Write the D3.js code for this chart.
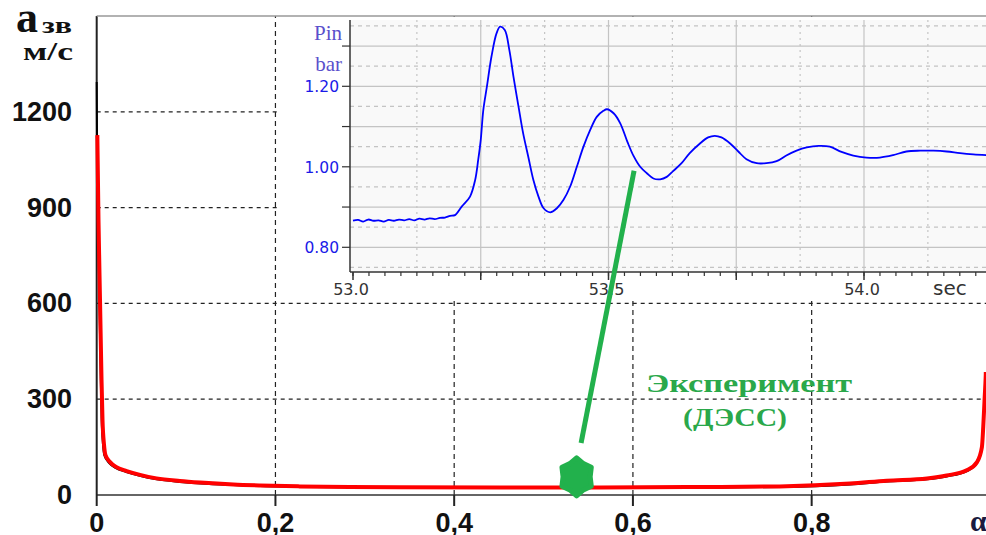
<!DOCTYPE html>
<html><head><meta charset="utf-8">
<script src="https://cdn.jsdelivr.net/npm/d3@7"></script>
<style>body{margin:0;background:#fff}svg{display:block}</style>
</head><body>
<svg id="c" width="986" height="535"></svg>
<script>
// ---------- main chart data ----------
const mainTicksX = [0, 0.2, 0.4, 0.6, 0.8];
const mainTickLabelsX = ["0", "0,2", "0,4", "0,6", "0,8"];
const mainTicksY = [0, 300, 600, 900, 1200];
const redX = [0.0007,0.002,0.0037,0.0054,0.0065,0.0082,0.0098,0.015,0.0216,0.0336,0.0485,0.067,0.093,0.116,0.153,0.183,0.227,0.283,0.339,0.451,0.563,0.675,0.764,0.843,0.884,0.929,0.951,0.974,0.985,0.9905,0.992,0.9935,0.9948,0.9995];
const redA = [1127,861,611,360,235,157,125,103,88,75,63,52,44,39,33,30,27,25,24,23.5,23.5,25,27,36,45,52,61,78,103,150,213,300,376,1130];
const blackX = [0.0,0.0003,0.0015,0.003,0.0045,0.0055,0.007,0.0085,0.014,0.021,0.033,0.048,0.067,0.093,0.116,0.153,0.183,0.227,0.283,0.339,0.451,0.563,0.675,0.764,0.843,0.884,0.929,0.951,0.974,0.985,0.9905,0.992,0.9935,0.9948,0.9995];
const blackA = [1293,1150,870,620,370,240,160,125,100,85,72,60,49,41,36,31,28,26,24,23,22.5,22.5,23.5,25,33,42,49,58,75,100,148,210,300,380,1130];
const expPoint = [0.537, 57];
const expLabel = ["Эксперимент", "(ДЭСС)"];

// ---------- inset data ----------
const insetT = [53.00,53.01,53.02,53.03,53.04,53.05,53.06,53.07,53.08,53.09,53.10,53.11,53.12,53.13,53.14,53.15,53.16,53.17,53.18,53.19,
  53.1996,53.2127,53.229,53.239,53.245,53.250,53.255,53.262,53.271,53.281,53.288,53.297,53.306,53.314,53.324,53.333,53.343,53.353,53.363,53.373,53.386,53.399,53.412,53.425,53.438,53.451,53.464,53.477,53.490,53.497,53.510,53.523,
  53.537,53.549,53.562,53.575,53.588,53.601,53.614,53.627,53.643,53.659,53.679,53.695,53.708,53.721,53.738,53.754,53.770,53.790,53.809,53.829,53.848,53.868,53.888,53.911,53.933,53.956,53.979,54.005,54.031,54.057,54.083,54.110,54.136,54.162,54.188,54.214,54.239];
const insetP = [0.866,0.868,0.864,0.869,0.866,0.867,0.864,0.868,0.866,0.869,0.867,0.870,0.867,0.871,0.869,0.872,0.870,0.873,0.874,0.878,
  0.880,0.901,0.926,0.967,1.017,1.067,1.141,1.199,1.274,1.332,1.348,1.340,1.290,1.224,1.149,1.083,1.025,0.967,0.926,0.897,0.887,0.897,0.918,0.951,1.000,1.050,1.091,1.124,1.139,1.143,1.133,1.108,
  1.062,1.027,1.000,0.984,0.971,0.969,0.975,0.990,1.009,1.034,1.058,1.073,1.077,1.073,1.058,1.038,1.019,1.009,1.009,1.014,1.028,1.040,1.048,1.052,1.050,1.037,1.028,1.023,1.023,1.029,1.038,1.040,1.040,1.038,1.034,1.031,1.029];
const insetTicksY = [0.8, 0.9, 1.0, 1.1, 1.2, 1.3];
const insetLabelsY = [0.8, 1.0, 1.2];
const insetLabelsX = [53.0, 53.5, 54.0];
const arrowFrom = [53.55, 0.99];   // inset coords
const arrowTo = [0.542, 163];      // main coords

// ---------- drawing ----------
const svg = d3.select("#c");
const x = d3.scaleLinear().domain([0, 1]).range([96.7, 990.4]);
const y = d3.scaleLinear().domain([0, 1500]).range([495, 16]);
const green = "#22b14c";

const cp = svg.append("defs").append("clipPath").attr("id", "mclip");
cp.append("rect").attr("x", 0).attr("y", 0).attr("width", x(0.99)).attr("height", 535);
cp.append("rect").attr("x", x(0.99)).attr("y", y(385)).attr("width", 986 - x(0.99)).attr("height", 535 - y(385));

// main grid
const grid = svg.append("g").attr("stroke", "#222").attr("stroke-width", 1.2).attr("stroke-dasharray", "4,4");
grid.selectAll(".h").data(mainTicksY.slice(1)).join("line")
  .attr("x1", x(0)).attr("x2", 986).attr("y1", d => y(d)).attr("y2", d => y(d));
grid.selectAll(".v").data(mainTicksX.slice(1)).join("line")
  .attr("x1", d => x(d)).attr("x2", d => x(d)).attr("y1", y(0)).attr("y2", y(1500))
  .attr("stroke-dasharray", "5,4");

// main axes
svg.append("line").attr("x1", x(0)).attr("x2", 986).attr("y1", y(0)).attr("y2", y(0)).attr("stroke", "#333").attr("stroke-width", 1.5);
svg.append("line").attr("x1", x(0)).attr("x2", x(0)).attr("y1", y(0)).attr("y2", y(1500)).attr("stroke", "#222").attr("stroke-width", 2);
svg.selectAll(".xt").data(mainTicksX).join("line")
  .attr("x1", d => x(d)).attr("x2", d => x(d)).attr("y1", y(0)).attr("y2", y(0) + 11)
  .attr("stroke", "#222").attr("stroke-width", 2);
svg.selectAll(".xl").data(mainTicksX).join("text")
  .attr("x", d => x(d)).attr("y", 532).attr("text-anchor", "middle")
  .attr("font-family", "Liberation Sans, Arial, sans-serif").attr("font-weight", "bold").attr("font-size", 27)
  .attr("fill", "#111").text((d, i) => mainTickLabelsX[i]);
svg.selectAll(".yl").data(mainTicksY).join("text")
  .attr("x", 72).attr("y", d => y(d) + 9).attr("text-anchor", "end")
  .attr("font-family", "Liberation Sans, Arial, sans-serif").attr("font-weight", "bold").attr("font-size", 27)
  .attr("fill", "#111").text(d => d);
svg.append("text").attr("x", 970).attr("y", 531)
  .attr("font-family", "Liberation Serif, serif").attr("font-weight", "bold").attr("font-size", 30)
  .attr("fill", "#1a1a40").text("α");

// y title
const tf = "Liberation Serif, Times New Roman, serif";
svg.append("text").attr("x", 16).attr("y", 32).attr("font-family", tf).attr("font-weight", "bold")
  .attr("font-size", 44).attr("fill", "#111").text("a");
svg.append("text").attr("x", 42).attr("y", 33).attr("font-family", tf).attr("font-weight", "bold")
  .attr("font-size", 24).attr("textLength", 30).attr("lengthAdjust", "spacingAndGlyphs").attr("fill", "#111").text("зв");
svg.append("text").attr("x", 23).attr("y", 60).attr("font-family", tf).attr("font-weight", "bold")
  .attr("font-size", 26).attr("textLength", 50).attr("lengthAdjust", "spacingAndGlyphs").attr("fill", "#111").text("м/с");

// main curves
const mline = d3.line().x(d => x(d[0])).y(d => y(d[1])).curve(d3.curveMonotoneX);
const mc = svg.append("g").attr("clip-path", "url(#mclip)");
mc.append("path").attr("d", mline(blackX.map((v, i) => [v, blackA[i]])))
  .attr("fill", "none").attr("stroke", "#000").attr("stroke-width", 2);
mc.append("path").attr("d", mline(redX.map((v, i) => [v, redA[i]])))
  .attr("fill", "none").attr("stroke", "#ff0000").attr("stroke-width", 4);

// ---------- inset ----------
const ix = d3.scaleLinear().domain([53.0, 54.0]).range([353, 864]);
const iy = d3.scaleLinear().domain([0.8, 1.2]).range([247.3, 86.3]);
const iTop = 20, iBottom = 272, iLeft = 350, iRight = 986;
svg.append("rect").attr("x", 277).attr("y", 17).attr("width", 986 - 277).attr("height", 301 - 17).attr("fill", "#fff");
svg.append("rect").attr("x", iLeft).attr("y", iTop).attr("width", iRight - iLeft).attr("height", iBottom - iTop).attr("fill", "#f9f9f9");

const yMajor = d3.range(0.8, 1.36, 0.1);
const yMinor = d3.range(0.75, 1.36, 0.1);
const tMajor = d3.range(53.0, 54.26, 0.25);
const tMinor = d3.range(53.125, 54.26, 0.25);
const ig = svg.append("g").attr("stroke", "#c4c4c4").attr("stroke-width", 1.2);
ig.selectAll(".a").data(yMajor).join("line").attr("x1", iLeft).attr("x2", iRight).attr("y1", d => iy(d)).attr("y2", d => iy(d));
ig.selectAll(".b").data(yMinor).join("line").attr("x1", iLeft).attr("x2", iRight).attr("y1", d => iy(d)).attr("y2", d => iy(d)).attr("stroke-dasharray", "4,4");
ig.selectAll(".c").data(tMajor.slice(1)).join("line").attr("x1", d => ix(d)).attr("x2", d => ix(d)).attr("y1", iTop).attr("y2", iBottom);
ig.selectAll(".d").data(tMinor).join("line").attr("x1", d => ix(d)).attr("x2", d => ix(d)).attr("y1", iTop).attr("y2", iBottom).attr("stroke-dasharray", "2,4");

// inset axes
svg.append("line").attr("x1", iLeft).attr("x2", iLeft).attr("y1", iTop).attr("y2", iBottom).attr("stroke", "#333").attr("stroke-width", 1.5);
svg.append("line").attr("x1", iLeft).attr("x2", iRight).attr("y1", iBottom).attr("y2", iBottom).attr("stroke", "#333").attr("stroke-width", 1.5);
svg.selectAll(".iyt").data(insetTicksY).join("line").attr("x1", iLeft - 8).attr("x2", iLeft).attr("y1", d => iy(d)).attr("y2", d => iy(d)).attr("stroke", "#333").attr("stroke-width", 1.2);
svg.selectAll(".ixm").data(d3.range(53.0, 54.26, 0.03125)).join("line").attr("x1", d => ix(d)).attr("x2", d => ix(d)).attr("y1", iBottom).attr("y2", iBottom + 4).attr("stroke", "#333").attr("stroke-width", 1.2);
svg.selectAll(".ixM").data(tMajor).join("line").attr("x1", d => ix(d)).attr("x2", d => ix(d)).attr("y1", iBottom).attr("y2", iBottom + 8).attr("stroke", "#333").attr("stroke-width", 1.5);

const sf = "DejaVu Sans, Verdana, sans-serif";
svg.selectAll(".iyl").data(insetLabelsY).join("text").attr("x", 339).attr("y", d => iy(d) + 6).attr("text-anchor", "end")
  .attr("font-family", sf).attr("font-size", 15.5).attr("fill", "#1a1ae8").text(d => d.toFixed(2));
svg.selectAll(".ixl").data(insetLabelsX).join("text").attr("x", d => ix(d) - 2).attr("y", 295).attr("text-anchor", "middle")
  .attr("font-family", sf).attr("font-size", 16).attr("fill", "#333").text(d => d.toFixed(1));
svg.append("text").attr("x", 933).attr("y", 295).attr("font-family", sf).attr("font-size", 20).attr("fill", "#333").text("sec");
svg.append("text").attr("x", 342).attr("y", 40).attr("text-anchor", "end").attr("font-family", tf).attr("font-size", 21).attr("fill", "#5a50cc").text("Pin");
svg.append("text").attr("x", 342).attr("y", 71).attr("text-anchor", "end").attr("font-family", tf).attr("font-size", 21).attr("fill", "#5a50cc").text("bar");

const iline = d3.line().x(d => ix(d[0])).y(d => iy(d[1])).curve(d3.curveCatmullRom.alpha(0.5));
svg.append("path").attr("d", iline(insetT.map((v, i) => [v, insetP[i]])))
  .attr("fill", "none").attr("stroke", "#0000ff").attr("stroke-width", 1.8);

// top border
svg.append("line").attr("x1", x(0)).attr("x2", 986).attr("y1", 16).attr("y2", 16).attr("stroke", "#999").attr("stroke-width", 1.5);

// ---------- annotation ----------
svg.append("line").attr("x1", ix(arrowFrom[0])).attr("y1", iy(arrowFrom[1]))
  .attr("x2", x(arrowTo[0])).attr("y2", y(arrowTo[1]))
  .attr("stroke", green).attr("stroke-width", 5);

const blob = {
  draw(ctx, size) {
    const R = Math.sqrt(size) / 2, r = R * 0.8, n = 6;
    for (let k = 0; k < 2 * n; k++) {
      const ang = -Math.PI / 2 + k * Math.PI / n;
      const rr = k % 2 ? r : R;
      const px = rr * Math.cos(ang), py = rr * Math.sin(ang) * 1.12;
      k ? ctx.lineTo(px, py) : ctx.moveTo(px, py);
    }
    ctx.closePath();
  }
};
svg.append("path").attr("d", d3.symbol().type(blob).size(1150)())
  .attr("transform", `translate(${x(expPoint[0])},${y(expPoint[1])})`)
  .attr("fill", green).attr("stroke", green).attr("stroke-width", 5).attr("stroke-linejoin", "round");

svg.append("text").attr("x", 646).attr("y", 392).attr("font-family", tf).attr("font-weight", "bold")
  .attr("font-size", 26).attr("textLength", 206).attr("lengthAdjust", "spacingAndGlyphs").attr("fill", "#2aa84a").text(expLabel[0]);
svg.append("text").attr("x", 683).attr("y", 426).attr("font-family", tf).attr("font-weight", "bold")
  .attr("font-size", 26).attr("textLength", 104).attr("lengthAdjust", "spacingAndGlyphs").attr("fill", "#2aa84a").text(expLabel[1]);
</script>
</body></html>
